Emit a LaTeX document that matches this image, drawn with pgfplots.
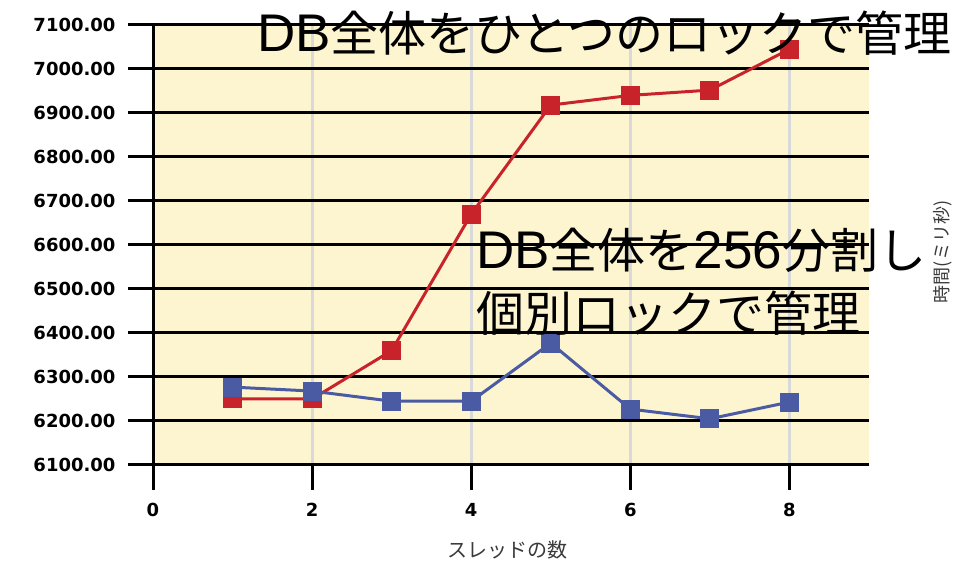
\documentclass[border=0pt]{standalone}
\usepackage{fontspec}
\setmainfont{DejaVu Sans}
\newfontfamily\jp{Noto Sans CJK JP}
\newfontfamily\lat{Liberation Sans}
\usepackage{pgfplots}
\pgfplotsset{compat=1.18}
\definecolor{plotbg}{HTML}{FDF5CF}
\definecolor{lockred}{HTML}{C8232B}
\definecolor{lockblue}{HTML}{4A5AA3}
\definecolor{vgrid}{HTML}{D9D9D9}
\definecolor{labelgray}{HTML}{3A3A3A}
% Latin letters and digits of the captions, slightly larger than the kana/kanji
\newcommand{\latpart}[1]{{\lat\fontsize{53}{53}\selectfont #1}}

\begin{document}
\begin{tikzpicture}[x=1pt,y=1pt]
\useasboundingbox[fill=white] (0,0) rectangle (956,561);
\begin{axis}[
  at={(153pt,96pt)}, anchor=south west,
  scale only axis, width=716pt, height=440pt,
  xmin=0, xmax=9, ymin=6100, ymax=7100,
  xtick={0,2,4,6,8}, ytick={6100,6200,...,7100},
  axis x line=bottom, axis y line=left,
  axis line style={-, line width=3pt, black},
  axis background/.style={fill=plotbg},
  xmajorgrids, ymajorgrids,
  x grid style={vgrid, line width=3pt},
  y grid style={black, line width=3pt},
  tick align=outside, major tick length=25pt,
  tick style={black, line width=3pt},
  minor tick num=0,
  /pgf/number format/assume math mode=true,
  yticklabel style={xshift=-9pt, /pgf/number format/.cd, fixed, fixed zerofill, precision=2, 1000 sep={}},
  xticklabel style={yshift=-10pt},
  ticklabel style={font=\fontsize{18}{18}\selectfont\bfseries, text=black},
  clip=false,
]
% single lock for the whole DB
\addplot[lockred, line width=3pt, mark=square*, mark size=9pt,
  mark options={solid, fill=lockred, draw=lockred, line width=0pt}]
  coordinates {(1,6250)(2,6250)(3,6360)(4,6670)(5,6918)(6,6940)(7,6952)(8,7045)};
% DB split into 256 separately locked parts
\addplot[lockblue, line width=3pt, mark=square*, mark size=9pt,
  mark options={solid, fill=lockblue, draw=lockblue, line width=0pt}]
  coordinates {(1,6277)(2,6268)(3,6245)(4,6245)(5,6377)(6,6227)(7,6205)(8,6243)};
\end{axis}
\node[text=labelgray, font=\jp\fontsize{20}{20}\selectfont] at (507,11) {スレッドの数};
\node[text=labelgray, font=\jp\fontsize{18}{18}\selectfont, rotate=90] at (943,309) {時間(ミリ秒)};
\node[anchor=west, inner sep=0pt, font=\jp\fontsize{48}{48}\selectfont] at (257,528) {\latpart{DB}全体をひとつのロックで管理};
\node[anchor=west, inner sep=0pt, font=\jp\fontsize{48}{48}\selectfont] at (476,311) {\latpart{DB}全体を\latpart{256}分割し};
\node[anchor=west, inner sep=0pt, font=\jp\fontsize{48}{48}\selectfont] at (476,248) {個別ロックで管理};
\end{tikzpicture}
\end{document}
